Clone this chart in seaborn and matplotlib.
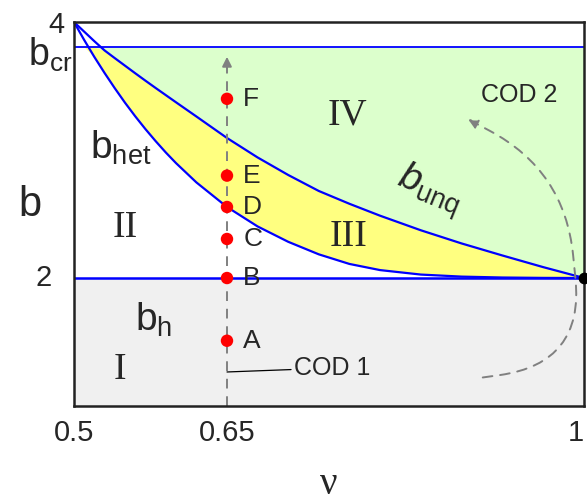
import numpy as np
import seaborn as sns
import matplotlib.pyplot as plt

# nu grid and the two boundary curves
nu = [0.5, 0.51, 0.52, 0.53, 0.54, 0.55, 0.56, 0.57, 0.58, 0.59, 0.60,
      0.62, 0.65, 0.68, 0.71, 0.74, 0.77, 0.80, 0.84, 0.88, 0.92, 0.96, 1.0]
b_het = [4.0, 3.86, 3.727, 3.602, 3.483, 3.37, 3.264, 3.164, 3.07, 2.981,
         2.898, 2.747, 2.555, 2.403, 2.283, 2.185, 2.11, 2.062, 2.027,
         2.011, 2.004, 2.001, 2.0]
b_unq = [4.0, 3.925, 3.85, 3.778, 3.718, 3.659, 3.60, 3.542, 3.485, 3.429,
         3.373, 3.262, 3.094, 2.942, 2.805, 2.68, 2.58, 2.487, 2.373, 2.27,
         2.176, 2.085, 2.0]
b_h = 2.0
b_cr = 3.805

# points on the COD 1 path
pt_names = ["A", "B", "C", "D", "E", "F"]
pt_nu = [0.65] * 6
pt_b = [1.51, 2.0, 2.305, 2.555, 2.80, 3.40]

# region labels
reg_names = ["I", "II", "III", "IV"]
reg_nu = [0.545, 0.55, 0.769, 0.768]
reg_b = [1.28, 2.39, 2.32, 3.27]

# COD 2 arrow (start, end)
cod2_start = (0.898, 1.22)
cod2_end = (0.884, 3.25)

sns.set_theme(style="white")
plt.rcParams["font.family"] = ["Liberation Sans", "DejaVu Sans"]
plt.rcParams["mathtext.fontset"] = "custom"
plt.rcParams["mathtext.rm"] = "Liberation Sans"
plt.rcParams["mathtext.it"] = "Liberation Sans:italic"

fig = plt.figure(figsize=(5.87, 5.04), dpi=100)
ax = fig.add_axes([0.126, 0.1944, 0.869, 0.7619])

het = np.array(b_het)
unq = np.array(b_unq)

# shaded regions
ax.fill_between(nu, 1, b_h, color="#f0f0f0", lw=0)
ax.fill_between(nu, np.minimum(het, b_cr), np.minimum(unq, b_cr),
                color="#ffff80", lw=0)
ax.fill_between(nu, np.minimum(unq, b_cr), b_cr, color="#dcffcc", lw=0)

# boundaries
sns.lineplot(x=nu, y=b_het, color="blue", lw=1.6, ax=ax)
sns.lineplot(x=nu, y=b_unq, color="blue", lw=1.6, ax=ax)
ax.axhline(b_h, color="blue", lw=1.8)
ax.axhline(b_cr, color="blue", lw=1.3)

# COD 1 path with arrow head
ax.plot([0.65, 0.65], [1, 3.72], color="gray", ls="--", lw=1.4, dashes=(5, 4))
ax.annotate("", xy=(0.65, 3.75), xytext=(0.65, 3.62),
            arrowprops=dict(arrowstyle="-|>", color="gray", lw=1.4,
                            mutation_scale=14))

# COD 2 curved path
ax.annotate("", xy=cod2_end, xytext=cod2_start,
            arrowprops=dict(arrowstyle="-|>", color="gray", lw=1.4,
                            ls=(0, (5, 4)), mutation_scale=14,
                            connectionstyle="arc,angleA=8,angleB=-28,"
                                            "armA=105,armB=112,rad=85"))

sns.scatterplot(x=pt_nu, y=pt_b, color="red", s=80, edgecolor="none",
                ax=ax, zorder=5)
for n, x, y in zip(pt_names, pt_nu, pt_b):
    ax.text(x + 0.016, y, n, fontsize=19, va="center", ha="left")

ax.scatter([1.0], [b_h], color="black", s=55, zorder=6, clip_on=False)

for n, x, y in zip(reg_names, reg_nu, reg_b):
    ax.text(x, y, n, fontsize=27, family="Liberation Serif",
            ha="center", va="center")

# curve labels
ax.text(0.516, 3.02, r"$\mathregular{b_{het}}$", fontsize=28, va="center")
ax.text(0.56, 1.67, r"$\mathregular{b_{h}}$", fontsize=28, va="center")
ax.text(0.81, 2.69, r"$\mathit{b}_{\mathregular{unq}}$", fontsize=28,
        va="center", rotation=-22)
ax.text(0.936, 3.43, "COD 2", fontsize=18, ha="center", va="center")
ax.annotate("COD 1", xy=(0.65, 1.266), xytext=(0.716, 1.297),
            fontsize=18, va="center",
            arrowprops=dict(arrowstyle="-", color="black", lw=0.9,
                            shrinkA=0, shrinkB=0))

# axis labels drawn as text
ax.text(0.491, 3.98, "4", fontsize=21, ha="right", va="center", clip_on=False)
ax.text(0.4985, 3.74, r"$\mathregular{b_{cr}}$", fontsize=27, ha="right",
        va="center", clip_on=False)
ax.text(0.478, 2.0, "2", fontsize=21, ha="right", va="center", clip_on=False)
ax.text(0.457, 2.57, "b", fontsize=30, ha="center", va="center", clip_on=False)
fig.text(0.56, 0.02, "\u03bd", fontsize=28, family="Liberation Serif",
         ha="center", va="baseline")

ax.set_xlim(0.5, 1.0)
ax.set_ylim(1, 4)
ax.set_xticks([0.5, 0.65, 1.0])
ax.set_xticklabels(["0.5", "0.65", "1"])
ax.get_xticklabels()[-1].set_ha("right")
ax.set_yticks([])
ax.tick_params(axis="x", labelsize=21, length=0, pad=9)
for s in ax.spines.values():
    s.set_color("#222222")
    s.set_linewidth(1.8)

plt.savefig("out.png", dpi=100)
